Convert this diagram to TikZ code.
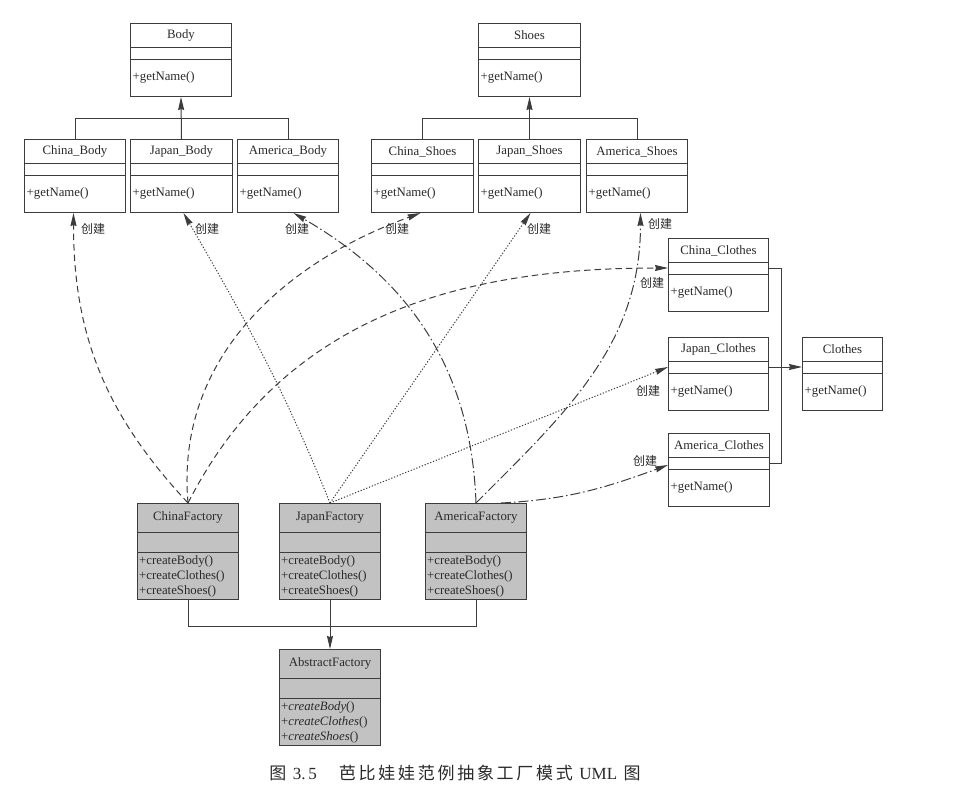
\documentclass[tikz,border=0pt]{standalone}
\usepackage{fontspec}
\setmainfont{Liberation Serif}
\newfontfamily\cjk{Noto Sans CJK SC}
\newfontfamily\cjkcap[LetterSpace=16]{Noto Sans CJK SC}
\usetikzlibrary{arrows.meta,calc}
\definecolor{ln}{HTML}{3C3C3C}
\definecolor{fac}{HTML}{C2C2C2}
\definecolor{tx}{HTML}{2A2A2A}
\tikzset{
  box/.style={draw=ln, line width=1pt, inner sep=0pt, minimum height=73pt, minimum width=101pt},
  facbox/.style={box, fill=fac, minimum height=96pt, minimum width=101pt},
  txt/.style={inner sep=0pt, text=tx, font=\fontsize{12.8}{14}\selectfont},
  lbl/.style={inner sep=0pt, text=tx, font=\cjk\fontsize{12}{13}\selectfont},
  genl/.style={draw=ln, line width=1pt},
  tip/.style={-{Stealth[length=13pt,width=6pt,inset=1pt]}},
  gen/.style={genl, tip},
  cnline/.style={genl, tip, dash pattern=on 6.5pt off 4pt},
  jpline/.style={genl, tip, dash pattern=on 1.2pt off 1.8pt},
  amline/.style={genl, tip, dash pattern=on 10pt off 3pt on 1.5pt off 3pt},
}
\newcommand{\prodcls}[5]{%
  \node[box, minimum width=#4pt, anchor=north west] (#1) at (#2,#3) {};
  \draw[genl] ([yshift=-24pt]#1.north west) -- ([yshift=-24pt]#1.north east)
              ([yshift=-36pt]#1.north west) -- ([yshift=-36pt]#1.north east);
  \node[txt] (#1t) at ([yshift=-12.5pt]#1.north) {#5};
  \node[txt, anchor=west] (#1m) at ([yshift=-54.5pt,xshift=2.5pt]#1.north west) {+getName()};
}
\newcommand{\faccls}[7]{%
  \node[facbox, anchor=north west] (#1) at (#2,#3) {};
  \draw[genl] ([yshift=-29pt]#1.north west) -- ([yshift=-29pt]#1.north east)
              ([yshift=-49pt]#1.north west) -- ([yshift=-49pt]#1.north east);
  \node[txt] (#1t) at ([yshift=-14.5pt]#1.north) {#4};
  \node[txt, anchor=west] (#1a) at ([yshift=-58pt,xshift=2pt]#1.north west) {#5};
  \node[txt, anchor=west] (#1b) at ([yshift=-73pt,xshift=2pt]#1.north west) {#6};
  \node[txt, anchor=west] (#1c) at ([yshift=-88pt,xshift=2pt]#1.north west) {#7};
}
\begin{document}
\begin{tikzpicture}[x=1pt, y=-1pt]
\useasboundingbox[fill=white] (0,0) rectangle (954,796);

% product classes
\prodcls{body}{130}{23}{101}{Body}
\prodcls{shoes}{478}{23}{102}{Shoes}
\prodcls{cb}{24}{139}{101}{China\_Body}
\prodcls{jb}{130}{139}{102}{Japan\_Body}
\prodcls{ab}{237}{139}{101}{America\_Body}
\prodcls{cs}{371}{139}{102}{China\_Shoes}
\prodcls{js}{478}{139}{102}{Japan\_Shoes}
\prodcls{as}{586}{139}{101}{America\_Shoes}
\prodcls{cc}{668}{238}{100}{China\_Clothes}
\prodcls{jc}{668}{337}{100}{Japan\_Clothes}
\prodcls{ac}{668}{433}{101}{America\_Clothes}
\prodcls{cl}{802}{337}{80}{Clothes}

% factories
\faccls{cf}{137}{503}{ChinaFactory}{+createBody()}{+createClothes()}{+createShoes()}
\faccls{jf}{279}{503}{JapanFactory}{+createBody()}{+createClothes()}{+createShoes()}
\faccls{af}{425}{503}{AmericaFactory}{+createBody()}{+createClothes()}{+createShoes()}
\faccls{abf}{279}{649}{AbstractFactory}{+\textit{createBody}()}{+\textit{createClothes}()}{+\textit{createShoes}()}

% generalizations
\draw[genl] (cb.north) -- ++(0,-21) -| (ab.north);
\draw[gen] (jb.north) -- (body.south);
\draw[genl] (cs.north) -- ++(0,-21) -| (as.north);
\draw[gen] (js.north) -- (shoes.south);
\draw[genl] ([yshift=-30pt]cc.north east) -- ++(12,0) |- ([yshift=-30pt]ac.north east);
\draw[gen] ([yshift=-30pt]jc.north east) -- ([yshift=-30pt]cl.north west);
\draw[genl] (cf.south) -- ++(0,26) -| (af.south);
\draw[gen] (jf.south) -- (abf.north);

% creation dependencies: China
\draw[cnline] (cf.north) to[out=133,in=-90] ([xshift=-1.5pt]cb.south);
\draw[cnline] (cf.north) to[out=95,in=200] ([xshift=-2pt]cs.south);
\draw[cnline] (cf.north) to[out=63,in=180] ([yshift=-30pt]cc.north west);
% Japan
\draw[jpline] (jf.north) to[out=112,in=-60] ([xshift=2pt]jb.south);
\draw[jpline] (jf.north) -- ([xshift=1pt]js.south);
\draw[jpline] (jf.north) -- ([yshift=-30pt]jc.north west);
% America
\draw[amline] (af.north) to[out=92,in=-30] ([xshift=5.5pt]ab.south);
\draw[amline] (af.north) to[out=45,in=-90] ([xshift=3.5pt]as.south);
\draw[amline] ([xshift=25pt]af.north) to[out=3,in=200] ([yshift=-32pt]ac.north west);

% labels
\node[lbl] (l1) at (93,229) {创建};
\node[lbl] (l2) at (207,229) {创建};
\node[lbl] (l3) at (297,229) {创建};
\node[lbl] (l4) at (397,229) {创建};
\node[lbl] (l5) at (539,229) {创建};
\node[lbl] (l6) at (660,224) {创建};
\node[lbl] (l7) at (652,282.5) {创建};
\node[lbl] (l8) at (648,391) {创建};
\node[lbl] (l9) at (645,460.5) {创建};

% caption
\node[inner sep=0pt, text=tx, font=\cjkcap\fontsize{17}{18}\selectfont] (cap) at (455,773)
  {图 {\rmfamily 3.\,5}\hspace{1.3em}芭比娃娃范例抽象工厂模式 {\rmfamily UML} 图};
\end{tikzpicture}
\end{document}
